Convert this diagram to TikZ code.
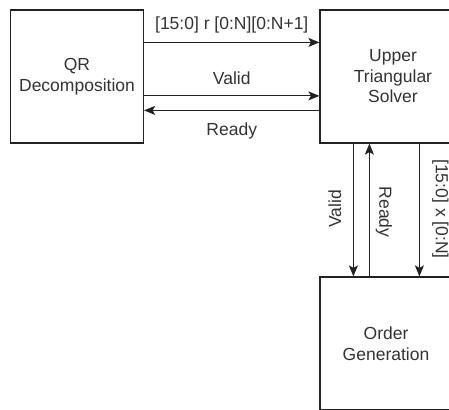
\documentclass[tikz,border=0pt]{standalone}
\usepackage{fontspec}
\setmainfont{Liberation Sans}
\usetikzlibrary{arrows.meta,calc}
\definecolor{ink}{HTML}{222222}
\definecolor{txt}{HTML}{333333}
\tikzset{
  block/.style={draw=ink, line width=1.2pt, fill=white, text=txt, align=center,
    font=\fontsize{17.5}{20.5}\selectfont, inner sep=0pt},
  arr/.style={draw=ink, line width=1.2pt, -{Stealth[length=11pt,width=9pt,inset=2.5pt]}},
  lbl/.style={text=txt, font=\fontsize{17.5}{20.5}\selectfont, inner sep=0pt},
}
\begin{document}
\begin{tikzpicture}[x=1pt,y=-1pt]
\useasboundingbox (0,0) rectangle (449,409);
\clip (0,0) rectangle (449,409);
\node[block, minimum width=133pt, minimum height=133pt] (qr) at (77,76.5) {QR\\Decomposition};
\node[block, minimum width=146pt, minimum height=133pt] (uts) at (393,76.5) {Upper\\Triangular\\Solver};
\node[block, minimum width=132pt, minimum height=133pt] (og) at (386,343.5) {Order\\Generation};
% horizontal connectors
\draw[arr] ([yshift=-33pt]qr.north east) -- ([yshift=-33pt]uts.north west)
  node[lbl, midway, yshift=17pt] (l1) {[15:0] r [0:N][0:N+1]};
\draw[arr] ([yshift=-86.5pt]qr.north east) -- ([yshift=-86.5pt]uts.north west)
  node[lbl, midway, yshift=17.5pt] (l2) {Valid};
\draw[arr] ([yshift=-101pt]uts.north west) -- ([yshift=-101pt]qr.north east)
  node[lbl, midway, yshift=-20.5pt] (l3) {Ready};
% vertical connectors
\draw[arr] ([xshift=34pt]uts.south west) -- ([xshift=34pt]og.north west);
\draw[arr] ([xshift=50pt]og.north west) -- ([xshift=50pt]uts.south west);
\draw[arr] ([xshift=100pt]uts.south west) -- ([xshift=100pt]og.north west);
\coordinate (mid) at ($(uts.south west)!0.5!(og.north west)$);
\node[lbl, rotate=90] (l4) at ($(mid)+(15.5,-1)$) {Valid};
\node[lbl, rotate=-90] (l5) at ($(mid)+(64.5,2)$) {Ready};
\node[lbl, rotate=-90] (l6) at ($(mid)+(121,-1)$) {[15:0] x [0:N]};
\end{tikzpicture}
\end{document}
